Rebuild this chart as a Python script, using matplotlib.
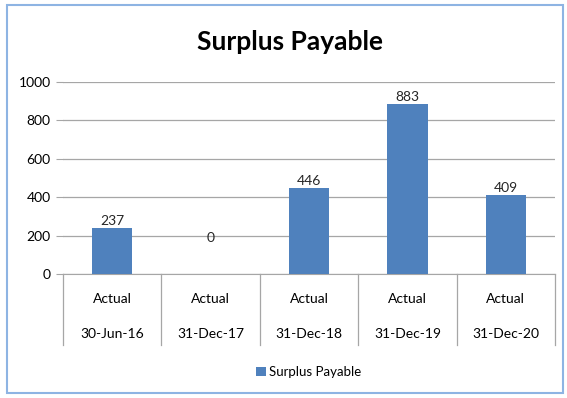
import matplotlib.pyplot as plt
from matplotlib.patches import Rectangle
from matplotlib.transforms import blended_transform_factory

# Surplus payable by reporting date
periods = ["Actual", "Actual", "Actual", "Actual", "Actual"]
dates = ["30-Jun-16", "31-Dec-17", "31-Dec-18", "31-Dec-19", "31-Dec-20"]
surplus = [237, 0, 446, 883, 409]

bar_color = "#4F81BD"
grid_color = "#A6A6A6"
plt.rcParams["font.family"] = ["Lato", "DejaVu Sans"]

fig = plt.figure(figsize=(5.67, 3.98), dpi=100)
ax = fig.add_axes([63 / 567, 1 - 274 / 398, 492 / 567, 192 / 398])

x = list(range(len(surplus)))
ax.bar(x, surplus, width=0.41, color=bar_color, zorder=3)
ax.set_xlim(-0.5, len(surplus) - 0.5)
ax.set_ylim(0, 1000)
ax.set_yticks(range(0, 1001, 200))
ax.yaxis.grid(True, color=grid_color, linewidth=0.9)
ax.set_axisbelow(True)
for side in ("top", "right", "left"):
    ax.spines[side].set_visible(False)
ax.spines["bottom"].set_color(grid_color)
ax.tick_params(axis="y", length=5, color=grid_color, labelsize=10, pad=4)
ax.set_xticks([])

# value labels above each bar
for xi, v in zip(x, surplus):
    y = v if v > 0 else 150
    ax.annotate(str(v), (xi, y), xytext=(0, 1), textcoords="offset points",
                ha="center", va="bottom", fontsize=10, color="#262626")

# two-level category axis with separators
trans = blended_transform_factory(ax.transData, ax.transAxes)
for xi, (p, d) in enumerate(zip(periods, dates)):
    ax.text(xi, -0.13, p, transform=trans, ha="center", va="center", fontsize=10)
    ax.text(xi, -0.31, d, transform=trans, ha="center", va="center", fontsize=10)
for b in range(len(surplus) + 1):
    ax.plot([b - 0.5, b - 0.5], [0, -0.37], transform=trans, color=grid_color,
            linewidth=0.9, clip_on=False)

fig.text(290 / 567, 1 - 42 / 398, "Surplus Payable", ha="center", va="center",
         fontsize=19, fontweight="bold")

# legend
ax.bar([0], [0], color=bar_color, label="Surplus Payable")
ax.legend(loc="center", bbox_to_anchor=(0.5, -0.51), frameon=False, fontsize=9.5,
          handlelength=0.7, handleheight=0.7, handletextpad=0.3)

fig.patches.append(Rectangle((7 / 567, 5 / 398), 556 / 567, 388 / 398,
                             transform=fig.transFigure, fill=False,
                             edgecolor="#8EB4E3", linewidth=1.5))

fig.savefig("out.png", dpi=100)
